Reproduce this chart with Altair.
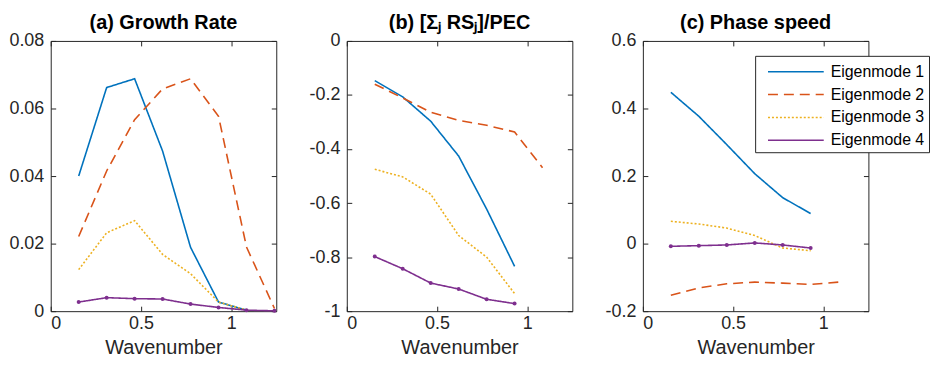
import altair as alt
import pandas as pd

MODES = ["Eigenmode 1", "Eigenmode 2", "Eigenmode 3", "Eigenmode 4"]
COLORS = ["#0072BD", "#D95319", "#EDB120", "#7E2F8E"]
DASHES = [[1, 0], [10, 6], [2, 2], [1, 0]]

K = [0.155, 0.31, 0.465, 0.62, 0.775, 0.93, 1.085, 1.24]

# (a) Growth rate
growth_m1 = [0.0400, 0.0662, 0.0688, 0.0474, 0.0189, 0.0027, 0.0003]
growth_m2 = [0.0221, 0.0415, 0.0567, 0.0658, 0.0688, 0.0577, 0.0190, 0.0008]
growth_m3 = [0.0123, 0.0232, 0.0268, 0.0168, 0.0111, 0.0027, 0.0003]
growth_m4 = [0.0027, 0.0040, 0.0037, 0.0036, 0.0021, 0.0011, 0.0003, 0.0001]

# (b) [sum_j RS_j]/PEC
ratio_m1 = [-0.147, -0.207, -0.297, -0.426, -0.622, -0.834]
ratio_m2 = [-0.160, -0.211, -0.264, -0.294, -0.312, -0.337, -0.469]
ratio_m3 = [-0.475, -0.503, -0.567, -0.720, -0.800, -0.935]
ratio_m4 = [-0.798, -0.843, -0.896, -0.918, -0.956, -0.972]

# (c) Phase speed
speed_m1 = [0.448, 0.377, 0.293, 0.207, 0.136, 0.089]
speed_m2 = [-0.153, -0.131, -0.119, -0.114, -0.117, -0.121, -0.114]
speed_m3 = [0.066, 0.058, 0.046, 0.024, -0.013, -0.021]
speed_m4 = [-0.008, -0.006, -0.004, 0.002, -0.004, -0.013]

X_TICKS = [0, 0.5, 1]
Y_TICKS_A = [0, 0.02, 0.04, 0.06, 0.08]
Y_TICKS_B = [-1, -0.8, -0.6, -0.4, -0.2, 0]
Y_TICKS_C = [-0.2, 0, 0.2, 0.4, 0.6]

FONT = "Liberation Sans"
INK = "#262626"


def make_df(series):
    rows = []
    for mode, vals in zip(MODES, series):
        for k, v in zip(K, vals):
            rows.append({"k": k, "v": v, "mode": mode})
    return pd.DataFrame(rows)


cscale = alt.Scale(domain=MODES, range=COLORS)
dscale = alt.Scale(domain=MODES, range=DASHES)


def inner_axis(orient, values):
    return alt.Axis(orient=orient, offset=-5, tickSize=5, labels=False, domain=False,
                    grid=False, values=values, tickColor=INK, tickWidth=1, ticks=True)


def panel(df, title, ydom, yvals, show_legend):
    xs = alt.Scale(domain=[0, 1.25], nice=False, zero=False)
    ys = alt.Scale(domain=ydom, nice=False, zero=False)
    main_x = alt.Axis(values=X_TICKS, labelExpr="'' + datum.value", ticks=False,
                      domain=False, grid=False, labelPadding=3, titlePadding=6)
    main_y = alt.Axis(values=yvals, labelExpr="'' + datum.value", ticks=False,
                      domain=False, grid=False, labelPadding=7)
    if show_legend:
        leg = alt.Legend(orient="none", legendX=113, legendY=15, title=None,
                         symbolType="M-2.55,0L2.55,0", symbolSize=484,
                         symbolStrokeWidth=1.5, symbolOffset=25,
                         labelFontSize=16, labelFont=FONT, labelColor="#000000",
                         strokeColor=INK, fillColor="white", padding=4,
                         rowPadding=3, labelOffset=23)
        color = alt.Color("mode:N", scale=cscale, legend=leg)
        dash = alt.StrokeDash("mode:N", scale=dscale, legend=leg)
    else:
        color = alt.Color("mode:N", scale=cscale, legend=None)
        dash = alt.StrokeDash("mode:N", scale=dscale, legend=None)

    lines = alt.Chart(df).mark_line(strokeWidth=1.6).encode(
        x=alt.X("k:Q", scale=xs, axis=main_x, title="Wavenumber"),
        y=alt.Y("v:Q", scale=ys, axis=main_y, title=None),
        color=color,
        strokeDash=dash,
    )
    pts = alt.Chart(df).transform_filter(alt.datum.mode == "Eigenmode 4").mark_circle(
        size=16, opacity=1, color=COLORS[3]
    ).encode(
        x=alt.X("k:Q", scale=xs, axis=inner_axis("bottom", X_TICKS), title=None),
        y=alt.Y("v:Q", scale=ys, axis=inner_axis("left", yvals), title=None),
    )
    ghost = alt.Chart(df).mark_point(opacity=0).encode(
        x=alt.X("k:Q", scale=xs, axis=inner_axis("top", X_TICKS), title=None),
        y=alt.Y("v:Q", scale=ys, axis=inner_axis("right", yvals), title=None),
    )
    return alt.layer(lines, pts, ghost).resolve_axis(
        x="independent", y="independent"
    ).properties(
        width=227, height=272,
        title=alt.TitleParams(title, fontSize=20, fontWeight="bold", font=FONT,
                              color="#000000", offset=-1),
    )


pa = panel(make_df([growth_m1, growth_m2, growth_m3, growth_m4]),
           "(a) Growth Rate", [0, 0.08], Y_TICKS_A, False)
pb = panel(make_df([ratio_m1, ratio_m2, ratio_m3, ratio_m4]),
           "(b) [Σⱼ RSⱼ]/PEC", [-1, 0], Y_TICKS_B, False)
pc = panel(make_df([speed_m1, speed_m2, speed_m3, speed_m4]),
           "(c) Phase speed", [-0.2, 0.6], Y_TICKS_C, True)

chart = alt.hconcat(pa, pb, pc, spacing=71, bounds="flush").resolve_scale(
    color="independent", strokeDash="independent"
).properties(
    padding={"left": 0, "top": 3, "right": 0, "bottom": 0}
).configure_view(
    stroke=INK, strokeWidth=1
).configure_axis(
    labelFont=FONT, labelFontSize=18, labelColor=INK,
    titleFont=FONT, titleFontSize=20, titleFontWeight="normal", titleColor=INK,
)

chart.save("out.html", embed_options={"renderer": "svg", "actions": False})
